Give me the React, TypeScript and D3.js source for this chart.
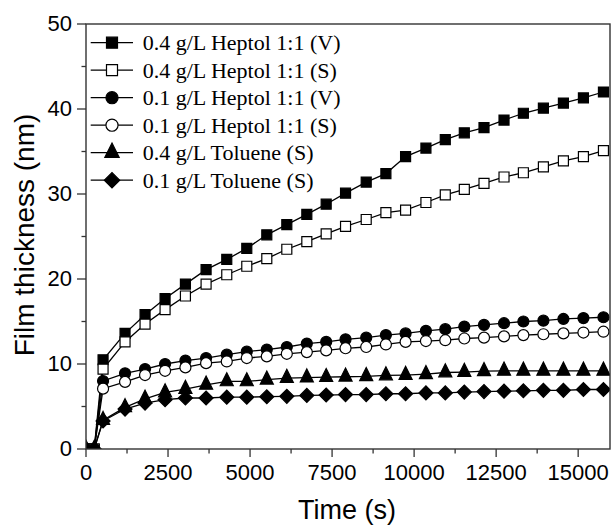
import React from 'react';
import * as d3 from 'd3';

// time axis (s) and film thickness (nm)
const times = [0, 250, 520, 1190, 1800, 2410, 3030, 3660, 4290, 4900, 5510, 6120, 6730, 7320,
  7910, 8540, 9140, 9740, 10360, 10950, 11530, 12130, 12740, 13330, 13940, 14550, 15160, 15770];

const heptol04V = [0, 0, 10.5, 13.6, 15.8, 17.7, 19.4, 21.1, 22.3, 23.6, 25.2, 26.4, 27.6, 28.8,
  30.1, 31.4, 32.4, 34.4, 35.4, 36.4, 37.2, 37.8, 38.7, 39.5, 40.1, 40.7, 41.3, 42.0];
const heptol04S = [0, 0, 9.4, 12.6, 14.7, 16.4, 18.0, 19.4, 20.5, 21.5, 22.4, 23.5, 24.4, 25.3,
  26.2, 27.0, 27.8, 28.1, 29.0, 29.9, 30.55, 31.25, 32.0, 32.5, 33.2, 33.9, 34.4, 35.1];
const heptol01V = [0, 0, 8.0, 8.9, 9.4, 10.0, 10.4, 10.7, 11.1, 11.45, 11.7, 12.0, 12.4, 12.6,
  12.9, 13.1, 13.4, 13.6, 13.9, 14.1, 14.4, 14.6, 14.8, 15.0, 15.1, 15.3, 15.4, 15.5];
const heptol01S = [0, 0, 7.1, 7.9, 8.7, 9.2, 9.6, 10.1, 10.3, 10.7, 10.9, 11.2, 11.4, 11.6,
  11.85, 12.0, 12.3, 12.6, 12.7, 12.8, 13.0, 13.1, 13.25, 13.4, 13.5, 13.6, 13.7, 13.8];
const toluene04S = [0, 0, 3.4, 4.9, 5.9, 6.65, 7.05, 7.55, 7.95, 7.95, 8.15, 8.35, 8.4, 8.45,
  8.5, 8.55, 8.65, 8.7, 8.8, 9.0, 9.05, 9.15, 9.2, 9.2, 9.2, 9.2, 9.2, 9.2];
const toluene01S = [0, 0, 3.3, 4.7, 5.4, 5.8, 6.0, 6.0, 6.1, 6.1, 6.15, 6.2, 6.3, 6.35,
  6.4, 6.4, 6.5, 6.5, 6.6, 6.6, 6.7, 6.75, 6.8, 6.85, 6.9, 6.9, 7.0, 7.0];

const seriesNames = [
  '0.4 g/L Heptol 1:1 (V)',
  '0.4 g/L Heptol 1:1 (S)',
  '0.1 g/L Heptol 1:1 (V)',
  '0.1 g/L Heptol 1:1 (S)',
  '0.4 g/L Toluene (S)',
  '0.1 g/L Toluene (S)',
];
const seriesValues = [heptol04V, heptol04S, heptol01V, heptol01S, toluene04S, toluene01S];
const seriesShapes = ['square', 'square', 'circle', 'circle', 'triangle', 'diamond'];
const seriesFilled = [true, false, true, false, true, true];

const xTicks = [0, 2500, 5000, 7500, 10000, 12500, 15000];
const yTicks = [0, 10, 20, 30, 40, 50];

const W = 613;
const H = 527;
const left = 86, right = 610, top = 24, bottom = 449;

const x = d3.scaleLinear().domain([0, 15970]).range([left, right]);
const y = d3.scaleLinear().domain([0, 50]).range([bottom, top]);

// triangle with its centroid on the data point
const triangleType = {
  draw(ctx: any, size: number) {
    const h = Math.sqrt(size);
    const w = h;
    ctx.moveTo(0, -(2 * h) / 3);
    ctx.lineTo(w / 2, h / 3);
    ctx.lineTo(-w / 2, h / 3);
    ctx.closePath();
  },
};

function markerPath(shape: string, k: number) {
  if (shape === 'square') return d3.symbol(d3.symbolSquare, 100 * k * k)()!;
  if (shape === 'circle') return d3.symbol(d3.symbolCircle, Math.PI * 5.5 * 5.5 * k * k)()!;
  if (shape === 'triangle') return d3.symbol(triangleType as any, 170 * k * k)()!;
  return d3.symbol(d3.symbolSquare, 98 * k * k)()!; // rotated -> diamond
}

const Marker = ({ cx, cy, shape, filled, k = 1 }: any) => (
  <path
    d={markerPath(shape, k)}
    transform={`translate(${cx},${cy})${shape === 'diamond' ? ' rotate(45)' : ''}`}
    fill={filled ? '#000' : '#fff'}
    stroke="#000"
    strokeWidth={1.2}
  />
);

export default function App() {
  const line = d3.line<number>().x((_, i) => x(times[i])).y((d) => y(d));
  const xMinor = d3.range(0, 16000, 1250).filter((t) => t % 2500 !== 0);
  const yMinor = d3.range(5, 50, 10);

  return (
    <svg width={W} height={H} style={{ position: 'absolute', left: 0, top: 0 }}
      fontFamily="'Liberation Sans', Arial, sans-serif">
      <rect width={W} height={H} fill="#fff" />
      <defs>
        <clipPath id="plot">
          <rect x={left} y={top} width={right - left} height={bottom - top} />
        </clipPath>
      </defs>

      <g clipPath="url(#plot)">
        {seriesValues.map((vals, s) => (
          <g key={s}>
            <path d={line(vals)!} fill="none" stroke="#000" strokeWidth={1.3} />
            {vals.map((v, i) => (
              <Marker key={i} cx={x(times[i])} cy={y(v)} shape={seriesShapes[s]} filled={seriesFilled[s]} />
            ))}
          </g>
        ))}
      </g>

      {/* frame */}
      <rect x={left} y={top} width={right - left} height={bottom - top} fill="none" stroke="#333" strokeWidth={1.4} />

      {/* x axis */}
      {xTicks.map((t) => (
        <g key={t}>
          <line x1={x(t)} x2={x(t)} y1={bottom} y2={bottom + 8} stroke="#333" strokeWidth={1.3} />
          <text x={x(t)} y={480} textAnchor="middle" fontSize={22}>{t}</text>
        </g>
      ))}
      {xMinor.map((t) => (
        <line key={t} x1={x(t)} x2={x(t)} y1={bottom} y2={bottom + 4.5} stroke="#333" strokeWidth={1.3} />
      ))}

      {/* y axis */}
      {yTicks.map((v) => (
        <g key={v}>
          <line x1={left - 9} x2={left} y1={y(v)} y2={y(v)} stroke="#333" strokeWidth={1.3} />
          <text x={72} y={y(v)} dy="0.3em" textAnchor="end" fontSize={22}>{v}</text>
        </g>
      ))}
      {yMinor.map((v) => (
        <line key={v} x1={left - 4.5} x2={left} y1={y(v)} y2={y(v)} stroke="#333" strokeWidth={1.3} />
      ))}

      <text x={347} y={519} textAnchor="middle" fontSize={27}>Time (s)</text>
      <text transform="translate(33.5,235) rotate(-90)" textAnchor="middle" fontSize={28}>Film thickness (nm)</text>

      {/* legend */}
      <g fontFamily="'Liberation Serif', 'Times New Roman', serif">
        {seriesNames.map((name, i) => {
          const cy = 42.7 + i * 27.5;
          return (
            <g key={name}>
              <line x1={90.7} x2={133} y1={cy} y2={cy} stroke="#000" strokeWidth={1.3} />
              <Marker cx={112} cy={cy} shape={seriesShapes[i]} filled={seriesFilled[i]} k={1.1} />
              <text x={142.7} y={cy + 7.5} fontSize={22}>{name}</text>
            </g>
          );
        })}
      </g>
    </svg>
  );
}
